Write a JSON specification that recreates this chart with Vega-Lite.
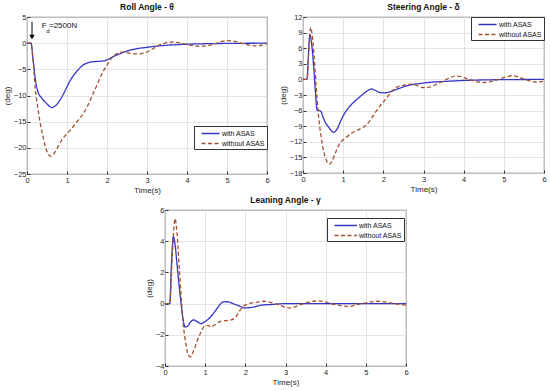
{
  "$schema": "https://vega.github.io/schema/vega-lite/v6.json",
  "padding": {"left": 2, "top": 2, "right": 5, "bottom": 2},
  "background": "white",
  "config": {
    "font": "Liberation Sans",
    "view": {"stroke": "#333333", "strokeWidth": 0.8},
    "axis": {
      "labelFont": "Liberation Sans", "labelFontSize": 7.5, "labelColor": "#262626",
      "titleFont": "Liberation Sans", "titleFontSize": 8, "titleFontWeight": "normal", "titleColor": "#262626",
      "gridColor": "#d9d9d9", "gridWidth": 0.7, "domain": false, "labelOverlap": false, "labelFlush": false,
      "tickColor": "#333333", "tickSize": -3
    },
    "axisX": {"labelPadding": 5, "titlePadding": 3},
    "axisY": {"labelPadding": 4, "titlePadding": 2},
    "title": {"font": "Liberation Sans", "fontSize": 8.5, "fontWeight": "bold", "color": "#111111", "offset": 2},
    "legend": {"labelFont": "Liberation Sans", "labelFontSize": 7, "labelColor": "#111111", "title": null, "orient": "none", "symbolType": "M0,0H4", "symbolSize": 81, "symbolStrokeWidth": 1.3, "fillColor": "white", "strokeColor": "#333333", "padding": 2, "rowPadding": 1, "labelOffset": 15},
    "concat": {"spacing": 8}
  },
  "datasets": {
    "roll": [
      {"t": 0, "v": 0, "s": "with ASAS"}, {"t": 0.1, "v": 0, "s": "with ASAS"}, {"t": 0.15, "v": -3, "s": "with ASAS"},
      {"t": 0.21, "v": -7.0, "s": "with ASAS"}, {"t": 0.27, "v": -9.2, "s": "with ASAS"}, {"t": 0.37, "v": -10.5, "s": "with ASAS"},
      {"t": 0.5, "v": -11.6, "s": "with ASAS"}, {"t": 0.62, "v": -12.3, "s": "with ASAS"}, {"t": 0.72, "v": -11.9, "s": "with ASAS"},
      {"t": 0.83, "v": -10.8, "s": "with ASAS"}, {"t": 0.94, "v": -9.3, "s": "with ASAS"}, {"t": 1.04, "v": -7.7, "s": "with ASAS"},
      {"t": 1.16, "v": -6.2, "s": "with ASAS"}, {"t": 1.29, "v": -5.0, "s": "with ASAS"}, {"t": 1.4, "v": -4.2, "s": "with ASAS"},
      {"t": 1.5, "v": -3.8, "s": "with ASAS"}, {"t": 1.6, "v": -3.6, "s": "with ASAS"}, {"t": 1.71, "v": -3.5, "s": "with ASAS"},
      {"t": 1.85, "v": -3.45, "s": "with ASAS"}, {"t": 1.96, "v": -3.3, "s": "with ASAS"}, {"t": 2.1, "v": -2.8, "s": "with ASAS"},
      {"t": 2.2, "v": -2.4, "s": "with ASAS"}, {"t": 2.33, "v": -2.0, "s": "with ASAS"}, {"t": 2.46, "v": -1.6, "s": "with ASAS"},
      {"t": 2.6, "v": -1.3, "s": "with ASAS"}, {"t": 2.75, "v": -1.05, "s": "with ASAS"}, {"t": 3.0, "v": -0.8, "s": "with ASAS"},
      {"t": 3.25, "v": -0.55, "s": "with ASAS"}, {"t": 3.5, "v": -0.4, "s": "with ASAS"}, {"t": 4.0, "v": -0.2, "s": "with ASAS"},
      {"t": 4.5, "v": -0.1, "s": "with ASAS"}, {"t": 5.0, "v": -0.05, "s": "with ASAS"}, {"t": 5.5, "v": -0.02, "s": "with ASAS"},
      {"t": 6.0, "v": 0, "s": "with ASAS"},
      {"t": 0, "v": 0, "s": "without ASAS"}, {"t": 0.1, "v": 0, "s": "without ASAS"}, {"t": 0.15, "v": -3, "s": "without ASAS"},
      {"t": 0.21, "v": -8.9, "s": "without ASAS"}, {"t": 0.27, "v": -12.3, "s": "without ASAS"}, {"t": 0.33, "v": -15.3, "s": "without ASAS"},
      {"t": 0.4, "v": -17.8, "s": "without ASAS"}, {"t": 0.46, "v": -19.8, "s": "without ASAS"}, {"t": 0.52, "v": -21.0, "s": "without ASAS"},
      {"t": 0.58, "v": -21.6, "s": "without ASAS"}, {"t": 0.64, "v": -21.4, "s": "without ASAS"}, {"t": 0.71, "v": -20.7, "s": "without ASAS"},
      {"t": 0.79, "v": -19.6, "s": "without ASAS"}, {"t": 0.87, "v": -18.5, "s": "without ASAS"}, {"t": 1.0, "v": -17.3, "s": "without ASAS"},
      {"t": 1.12, "v": -16.3, "s": "without ASAS"}, {"t": 1.25, "v": -15.0, "s": "without ASAS"}, {"t": 1.42, "v": -13.3, "s": "without ASAS"},
      {"t": 1.52, "v": -11.9, "s": "without ASAS"}, {"t": 1.62, "v": -10.2, "s": "without ASAS"}, {"t": 1.75, "v": -8.0, "s": "without ASAS"},
      {"t": 1.87, "v": -5.9, "s": "without ASAS"}, {"t": 2.0, "v": -4.2, "s": "without ASAS"}, {"t": 2.12, "v": -2.8, "s": "without ASAS"},
      {"t": 2.25, "v": -2.0, "s": "without ASAS"}, {"t": 2.37, "v": -1.7, "s": "without ASAS"}, {"t": 2.5, "v": -1.8, "s": "without ASAS"},
      {"t": 2.65, "v": -2.0, "s": "without ASAS"}, {"t": 2.8, "v": -2.05, "s": "without ASAS"}, {"t": 2.96, "v": -1.8, "s": "without ASAS"},
      {"t": 3.1, "v": -1.3, "s": "without ASAS"}, {"t": 3.25, "v": -0.6, "s": "without ASAS"}, {"t": 3.4, "v": -0.1, "s": "without ASAS"},
      {"t": 3.58, "v": 0.2, "s": "without ASAS"}, {"t": 3.75, "v": 0.15, "s": "without ASAS"}, {"t": 3.9, "v": -0.1, "s": "without ASAS"},
      {"t": 4.1, "v": -0.4, "s": "without ASAS"}, {"t": 4.33, "v": -0.6, "s": "without ASAS"}, {"t": 4.5, "v": -0.5, "s": "without ASAS"},
      {"t": 4.7, "v": -0.1, "s": "without ASAS"}, {"t": 4.85, "v": 0.3, "s": "without ASAS"}, {"t": 5.0, "v": 0.5, "s": "without ASAS"},
      {"t": 5.15, "v": 0.4, "s": "without ASAS"}, {"t": 5.3, "v": 0.1, "s": "without ASAS"}, {"t": 5.5, "v": -0.3, "s": "without ASAS"},
      {"t": 5.71, "v": -0.5, "s": "without ASAS"}, {"t": 5.85, "v": -0.4, "s": "without ASAS"}, {"t": 6.0, "v": -0.1, "s": "without ASAS"}
    ],
    "steer": [
      {"t": 0, "v": 0, "s": "with ASAS"}, {"t": 0.1, "v": 0, "s": "with ASAS"}, {"t": 0.13, "v": 4, "s": "with ASAS"},
      {"t": 0.17, "v": 8.6, "s": "with ASAS"}, {"t": 0.22, "v": 6.5, "s": "with ASAS"}, {"t": 0.27, "v": 2, "s": "with ASAS"},
      {"t": 0.31, "v": -2.5, "s": "with ASAS"}, {"t": 0.35, "v": -5.9, "s": "with ASAS"}, {"t": 0.4, "v": -6.0, "s": "with ASAS"},
      {"t": 0.44, "v": -6.1, "s": "with ASAS"}, {"t": 0.5, "v": -7.3, "s": "with ASAS"}, {"t": 0.55, "v": -8.2, "s": "with ASAS"},
      {"t": 0.62, "v": -9.0, "s": "with ASAS"}, {"t": 0.7, "v": -9.8, "s": "with ASAS"}, {"t": 0.76, "v": -10.2, "s": "with ASAS"},
      {"t": 0.85, "v": -9.5, "s": "with ASAS"}, {"t": 0.95, "v": -7.8, "s": "with ASAS"}, {"t": 1.03, "v": -6.6, "s": "with ASAS"},
      {"t": 1.15, "v": -5.3, "s": "with ASAS"}, {"t": 1.32, "v": -4.0, "s": "with ASAS"}, {"t": 1.5, "v": -2.8, "s": "with ASAS"},
      {"t": 1.6, "v": -2.2, "s": "with ASAS"}, {"t": 1.7, "v": -1.85, "s": "with ASAS"}, {"t": 1.8, "v": -2.1, "s": "with ASAS"},
      {"t": 1.9, "v": -2.5, "s": "with ASAS"}, {"t": 2.0, "v": -2.6, "s": "with ASAS"}, {"t": 2.15, "v": -2.4, "s": "with ASAS"},
      {"t": 2.3, "v": -2.0, "s": "with ASAS"}, {"t": 2.44, "v": -1.6, "s": "with ASAS"}, {"t": 2.6, "v": -1.2, "s": "with ASAS"},
      {"t": 2.8, "v": -0.9, "s": "with ASAS"}, {"t": 3.0, "v": -0.7, "s": "with ASAS"}, {"t": 3.25, "v": -0.5, "s": "with ASAS"},
      {"t": 3.5, "v": -0.4, "s": "with ASAS"}, {"t": 4.0, "v": -0.2, "s": "with ASAS"}, {"t": 4.5, "v": -0.1, "s": "with ASAS"},
      {"t": 5.0, "v": -0.05, "s": "with ASAS"}, {"t": 6.0, "v": 0, "s": "with ASAS"},
      {"t": 0, "v": 0, "s": "without ASAS"}, {"t": 0.1, "v": 0, "s": "without ASAS"}, {"t": 0.15, "v": 6, "s": "without ASAS"},
      {"t": 0.19, "v": 10.0, "s": "without ASAS"}, {"t": 0.23, "v": 8.5, "s": "without ASAS"}, {"t": 0.28, "v": 4, "s": "without ASAS"},
      {"t": 0.33, "v": -1.5, "s": "without ASAS"}, {"t": 0.38, "v": -6.5, "s": "without ASAS"}, {"t": 0.45, "v": -11, "s": "without ASAS"},
      {"t": 0.52, "v": -14, "s": "without ASAS"}, {"t": 0.58, "v": -15.5, "s": "without ASAS"}, {"t": 0.66, "v": -16.3, "s": "without ASAS"},
      {"t": 0.72, "v": -15.8, "s": "without ASAS"}, {"t": 0.8, "v": -14.3, "s": "without ASAS"}, {"t": 0.88, "v": -12.8, "s": "without ASAS"},
      {"t": 0.95, "v": -12.0, "s": "without ASAS"}, {"t": 1.05, "v": -11.3, "s": "without ASAS"}, {"t": 1.2, "v": -10.4, "s": "without ASAS"},
      {"t": 1.4, "v": -9.6, "s": "without ASAS"}, {"t": 1.57, "v": -8.8, "s": "without ASAS"}, {"t": 1.68, "v": -7.8, "s": "without ASAS"},
      {"t": 1.78, "v": -6.6, "s": "without ASAS"}, {"t": 1.92, "v": -5.1, "s": "without ASAS"}, {"t": 2.07, "v": -3.7, "s": "without ASAS"},
      {"t": 2.2, "v": -2.4, "s": "without ASAS"}, {"t": 2.36, "v": -1.4, "s": "without ASAS"}, {"t": 2.5, "v": -1.15, "s": "without ASAS"},
      {"t": 2.7, "v": -0.9, "s": "without ASAS"}, {"t": 2.85, "v": -1.2, "s": "without ASAS"}, {"t": 3.0, "v": -1.6, "s": "without ASAS"},
      {"t": 3.15, "v": -1.5, "s": "without ASAS"}, {"t": 3.3, "v": -1.0, "s": "without ASAS"}, {"t": 3.5, "v": -0.3, "s": "without ASAS"},
      {"t": 3.65, "v": 0.3, "s": "without ASAS"}, {"t": 3.8, "v": 0.65, "s": "without ASAS"}, {"t": 3.95, "v": 0.5, "s": "without ASAS"},
      {"t": 4.1, "v": 0.1, "s": "without ASAS"}, {"t": 4.3, "v": -0.4, "s": "without ASAS"}, {"t": 4.5, "v": -0.6, "s": "without ASAS"},
      {"t": 4.7, "v": -0.4, "s": "without ASAS"}, {"t": 4.9, "v": 0.1, "s": "without ASAS"}, {"t": 5.05, "v": 0.45, "s": "without ASAS"},
      {"t": 5.2, "v": 0.7, "s": "without ASAS"}, {"t": 5.35, "v": 0.5, "s": "without ASAS"}, {"t": 5.5, "v": 0.1, "s": "without ASAS"},
      {"t": 5.65, "v": -0.3, "s": "without ASAS"}, {"t": 5.8, "v": -0.5, "s": "without ASAS"}, {"t": 6.0, "v": -0.35, "s": "without ASAS"}
    ],
    "lean": [
      {"t": 0, "v": 0, "s": "with ASAS"}, {"t": 0.12, "v": 0, "s": "with ASAS"}, {"t": 0.16, "v": 2.5, "s": "with ASAS"},
      {"t": 0.21, "v": 4.3, "s": "with ASAS"}, {"t": 0.25, "v": 3.8, "s": "with ASAS"}, {"t": 0.3, "v": 2.5, "s": "with ASAS"},
      {"t": 0.35, "v": 1.2, "s": "with ASAS"}, {"t": 0.4, "v": 0.0, "s": "with ASAS"}, {"t": 0.45, "v": -1.0, "s": "with ASAS"},
      {"t": 0.5, "v": -1.5, "s": "with ASAS"}, {"t": 0.56, "v": -1.45, "s": "with ASAS"}, {"t": 0.63, "v": -1.2, "s": "with ASAS"},
      {"t": 0.71, "v": -1.05, "s": "with ASAS"}, {"t": 0.8, "v": -1.15, "s": "with ASAS"}, {"t": 0.9, "v": -1.28, "s": "with ASAS"},
      {"t": 1.0, "v": -1.15, "s": "with ASAS"}, {"t": 1.15, "v": -0.81, "s": "with ASAS"}, {"t": 1.3, "v": -0.3, "s": "with ASAS"},
      {"t": 1.44, "v": 0.1, "s": "with ASAS"}, {"t": 1.55, "v": 0.12, "s": "with ASAS"}, {"t": 1.69, "v": 0.0, "s": "with ASAS"},
      {"t": 1.85, "v": -0.15, "s": "with ASAS"}, {"t": 1.98, "v": -0.28, "s": "with ASAS"}, {"t": 2.2, "v": -0.22, "s": "with ASAS"},
      {"t": 2.4, "v": -0.1, "s": "with ASAS"}, {"t": 2.7, "v": -0.05, "s": "with ASAS"}, {"t": 3.0, "v": 0.0, "s": "with ASAS"},
      {"t": 4.0, "v": 0.0, "s": "with ASAS"}, {"t": 5.0, "v": 0.0, "s": "with ASAS"}, {"t": 6.0, "v": 0.0, "s": "with ASAS"},
      {"t": 0, "v": 0, "s": "without ASAS"}, {"t": 0.12, "v": 0, "s": "without ASAS"}, {"t": 0.18, "v": 3, "s": "without ASAS"},
      {"t": 0.25, "v": 5.45, "s": "without ASAS"}, {"t": 0.3, "v": 4.5, "s": "without ASAS"}, {"t": 0.35, "v": 2.5, "s": "without ASAS"},
      {"t": 0.4, "v": 0.5, "s": "without ASAS"}, {"t": 0.45, "v": -1.2, "s": "without ASAS"}, {"t": 0.52, "v": -2.6, "s": "without ASAS"},
      {"t": 0.58, "v": -3.3, "s": "without ASAS"}, {"t": 0.63, "v": -3.42, "s": "without ASAS"}, {"t": 0.7, "v": -3.1, "s": "without ASAS"},
      {"t": 0.8, "v": -2.4, "s": "without ASAS"}, {"t": 0.9, "v": -1.8, "s": "without ASAS"}, {"t": 0.98, "v": -1.45, "s": "without ASAS"},
      {"t": 1.07, "v": -1.4, "s": "without ASAS"}, {"t": 1.15, "v": -1.5, "s": "without ASAS"}, {"t": 1.25, "v": -1.35, "s": "without ASAS"},
      {"t": 1.4, "v": -1.12, "s": "without ASAS"}, {"t": 1.6, "v": -1.07, "s": "without ASAS"}, {"t": 1.75, "v": -0.9, "s": "without ASAS"},
      {"t": 1.85, "v": -0.5, "s": "without ASAS"}, {"t": 1.94, "v": -0.2, "s": "without ASAS"}, {"t": 2.1, "v": 0.0, "s": "without ASAS"},
      {"t": 2.3, "v": 0.1, "s": "without ASAS"}, {"t": 2.45, "v": 0.15, "s": "without ASAS"}, {"t": 2.6, "v": 0.1, "s": "without ASAS"},
      {"t": 2.8, "v": -0.05, "s": "without ASAS"}, {"t": 3.1, "v": -0.28, "s": "without ASAS"}, {"t": 3.25, "v": -0.2, "s": "without ASAS"},
      {"t": 3.45, "v": 0.0, "s": "without ASAS"}, {"t": 3.8, "v": 0.17, "s": "without ASAS"}, {"t": 4.0, "v": 0.1, "s": "without ASAS"},
      {"t": 4.2, "v": -0.05, "s": "without ASAS"}, {"t": 4.6, "v": -0.18, "s": "without ASAS"}, {"t": 4.8, "v": -0.05, "s": "without ASAS"},
      {"t": 5.0, "v": 0.05, "s": "without ASAS"}, {"t": 5.3, "v": 0.15, "s": "without ASAS"}, {"t": 5.5, "v": 0.1, "s": "without ASAS"},
      {"t": 5.7, "v": 0.0, "s": "without ASAS"}, {"t": 6.0, "v": -0.1, "s": "without ASAS"}
    ]
  },
  "vconcat": [
    {
      "hconcat": [
        {
          "width": 240, "height": 157,
          "title": {"text": "Roll Angle - θ"},
          "encoding": {
            "x": {"field": "t", "type": "quantitative", "scale": {"domain": [0, 6], "nice": false}, "axis": {"values": [0, 1, 2, 3, 4, 5, 6], "labelOverlap": false, "title": "Time(s)"}},
            "y": {"field": "v", "type": "quantitative", "scale": {"domain": [-25, 5], "nice": false}, "axis": {"values": [-25, -20, -15, -10, -5, 0, 5], "labelOverlap": false, "title": "(deg)"}}
          },
          "layer": [
            {
              "data": {"name": "roll"},
              "mark": {"type": "line", "strokeWidth": 1.3, "interpolate": "monotone"},
              "encoding": {
                "color": {"field": "s", "type": "nominal", "scale": {"domain": ["with ASAS", "without ASAS"], "range": ["#3535c8", "#a0522d"]},
                  "legend": {"legendX": 167, "legendY": 109}},
                "strokeDash": {"field": "s", "type": "nominal", "scale": {"domain": ["with ASAS", "without ASAS"], "range": [[1, 0], [4, 2.5]]},
                  "legend": {"legendX": 167, "legendY": 109}}
              }
            },
            {
              "data": {"values": [{"t": 0.125, "v": 4.1, "v2": 1.2}]},
              "mark": {"type": "rule", "color": "black", "strokeWidth": 1},
              "encoding": {"y2": {"field": "v2"}}
            },
            {
              "data": {"values": [{"t": 0.125, "v": 1.15}]},
              "mark": {"type": "point", "shape": "triangle-down", "filled": true, "color": "black", "size": 28, "opacity": 1},
              "encoding": {}
            },
            {
              "data": {"values": [{"t": 0.37, "v": 3.2, "label": "F"}, {"t": 0.55, "v": 3.2, "label": "=2500N"}]},
              "mark": {"type": "text", "align": "left", "baseline": "middle", "fontSize": 8, "color": "#111111"},
              "encoding": {"text": {"field": "label"}}
            },
            {
              "data": {"values": [{"t": 0.48, "v": 2.3, "label": "d"}]},
              "mark": {"type": "text", "align": "left", "baseline": "middle", "fontSize": 6, "color": "#111111"},
              "encoding": {"text": {"field": "label"}}
            }
          ]
        },
        {
          "width": 241, "height": 156,
          "title": {"text": "Steering Angle - δ"},
          "data": {"name": "steer"},
          "mark": {"type": "line", "strokeWidth": 1.3, "interpolate": "monotone"},
          "encoding": {
            "x": {"field": "t", "type": "quantitative", "scale": {"domain": [0, 6], "nice": false}, "axis": {"values": [0, 1, 2, 3, 4, 5, 6], "labelOverlap": false, "title": "Time(s)"}},
            "y": {"field": "v", "type": "quantitative", "scale": {"domain": [-18, 12], "nice": false}, "axis": {"values": [-18, -15, -12, -9, -6, -3, 0, 3, 6, 9, 12], "labelOverlap": false, "title": "(deg)"}},
            "color": {"field": "s", "type": "nominal", "scale": {"domain": ["with ASAS", "without ASAS"], "range": ["#3535c8", "#a0522d"]},
              "legend": {"legendX": 168, "legendY": 0}},
            "strokeDash": {"field": "s", "type": "nominal", "scale": {"domain": ["with ASAS", "without ASAS"], "range": [[1, 0], [4, 2.5]]},
              "legend": {"legendX": 168, "legendY": 0}}
          }
        }
      ],
      "resolve": {"scale": {"color": "independent", "strokeDash": "independent"}, "legend": {"color": "independent", "strokeDash": "independent"}}
    },
    {
      "width": 241, "height": 156,
      "title": {"text": "Leaning Angle - γ"},
      "data": {"name": "lean"},
      "mark": {"type": "line", "strokeWidth": 1.3, "interpolate": "monotone"},
      "encoding": {
        "x": {"field": "t", "type": "quantitative", "scale": {"domain": [0, 6], "nice": false}, "axis": {"values": [0, 1, 2, 3, 4, 5, 6], "labelOverlap": false, "title": "Time(s)"}},
        "y": {"field": "v", "type": "quantitative", "scale": {"domain": [-4, 6], "nice": false}, "axis": {"values": [-4, -2, 0, 2, 4, 6], "labelOverlap": false, "title": "(deg)"}},
        "color": {"field": "s", "type": "nominal", "scale": {"domain": ["with ASAS", "without ASAS"], "range": ["#3535c8", "#a0522d"]},
          "legend": {"legendX": 162, "legendY": 8, "symbolType": "M0,0H5", "labelOffset": 19}},
        "strokeDash": {"field": "s", "type": "nominal", "scale": {"domain": ["with ASAS", "without ASAS"], "range": [[1, 0], [4, 2.5]]},
          "legend": {"legendX": 162, "legendY": 8, "symbolType": "M0,0H5", "labelOffset": 19}}
      }
    }
  ],
  "spacing": 0,
  "center": true,
  "resolve": {"scale": {"color": "independent", "strokeDash": "independent"}, "legend": {"color": "independent", "strokeDash": "independent"}}
}
